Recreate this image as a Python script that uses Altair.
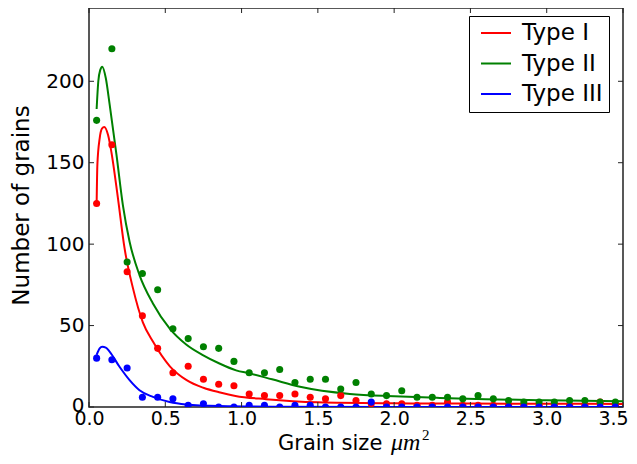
import altair as alt
import pandas as pd

# ---------------- data ----------------
bin_centers = [0.05, 0.15, 0.25, 0.35, 0.45, 0.55, 0.65, 0.75, 0.85, 0.95,
               1.05, 1.15, 1.25, 1.35, 1.45, 1.55, 1.65, 1.75, 1.85, 1.95,
               2.05, 2.15, 2.25, 2.35, 2.45, 2.55, 2.65, 2.75, 2.85, 2.95,
               3.05, 3.15, 3.25, 3.35, 3.45]

type1_counts = [125, 161, 83, 56, 36, 21, 25, 17, 14, 13,
                8, 7, 7, 8, 6, 5, 7, 4, 2, 2,
                2, 1, 1, 3, 1, 1, 1, 1, 1, 1,
                1, 1, 1, 3, 1]
type2_counts = [176, 220, 89, 82, 72, 48, 42, 37, 36, 28,
                21, 21, 23, 15, 17, 17, 11, 15, 8, 7,
                10, 6, 6, 6, 5, 7, 5, 4, 3, 3,
                3, 4, 4, 3, 3]
type3_counts = [30, 29, 24, 6, 6, 5, 1, 2, 0, 0,
                1, 1, 0, 1, 1, 0, 0, 0, 3, 0,
                0, 0, 0, 0, 0, 0, 0, 0, 0, 0,
                0, 0, 0, 0, 0]

type1_fit_x = [0.05, 0.055, 0.07, 0.085, 0.10, 0.125, 0.146, 0.19, 0.233, 0.288,
               0.353, 0.42, 0.53, 0.64, 0.75, 0.86, 0.96, 1.16, 1.5, 2.0, 2.5, 3.0, 3.5]
type1_fit_y = [125, 149, 165, 171, 172, 167, 157, 128, 97.5, 73,
               52, 40, 25, 16.5, 11.8, 8.9, 6.8, 4.8, 2.9, 2.3, 2.1, 2.0, 1.9]

type2_fit_x = [0.05, 0.061, 0.074, 0.087, 0.11, 0.135, 0.18, 0.222, 0.266, 0.331,
               0.419, 0.528, 0.637, 0.746, 0.855, 0.964, 1.056, 1.2, 1.383, 1.71,
               2.0, 2.3, 2.6, 3.0, 3.5]
type2_fit_y = [183, 200, 207, 209, 202, 186, 155, 124, 101.5, 81,
               63.6, 48.3, 38.4, 31.9, 26.7, 22.5, 20.6, 17, 12.4, 8,
               6.6, 5.6, 4.8, 4.1, 3.6]

type3_fit_x = [0.05, 0.07, 0.087, 0.11, 0.135, 0.2, 0.266, 0.331, 0.419, 0.528,
               0.637, 0.855, 1.2, 2.0, 3.5]
type3_fit_y = [32, 36, 37, 36.5, 34, 24.7, 16.5, 10.3, 6.2, 3.1,
               1.6, 0.6, 0.2, 0.05, 0.0]

series_names = ["Type I", "Type II", "Type III"]
series_colors = ["#ff0000", "#008000", "#0000ff"]

x_ticks = [0.0, 0.5, 1.0, 1.5, 2.0, 2.5, 3.0, 3.5]
y_ticks = [0, 50, 100, 150, 200]

# ---------------- tables ----------------
points_df = pd.concat([
    pd.DataFrame({"x": bin_centers, "y": type1_counts, "series": series_names[0]}),
    pd.DataFrame({"x": bin_centers, "y": type2_counts, "series": series_names[1]}),
    pd.DataFrame({"x": bin_centers, "y": type3_counts, "series": series_names[2]}),
], ignore_index=True)

curves_df = pd.concat([
    pd.DataFrame({"x": type1_fit_x, "y": type1_fit_y, "series": series_names[0]}),
    pd.DataFrame({"x": type2_fit_x, "y": type2_fit_y, "series": series_names[1]}),
    pd.DataFrame({"x": type3_fit_x, "y": type3_fit_y, "series": series_names[2]}),
], ignore_index=True)

xt_df = pd.DataFrame({"x": x_ticks})
yt_df = pd.DataFrame({"y": y_ticks})

W, H = 534, 399
TICK = 5
FRAME = "#222222"

x_scale = alt.Scale(domain=[0, 3.5], nice=False, zero=False)
y_scale = alt.Scale(domain=[0, 245], nice=False)
color_scale = alt.Scale(domain=series_names, range=series_colors)

x_axis = alt.Axis(values=x_ticks, format=".1f", title=None, grid=False, ticks=False,
                  domain=False, labelFontSize=19, labelColor="black", labelPadding=2,
                  labelFont="DejaVu Sans", labelFlush=False, labelOverlap=False,
                  labelOffset={"condition": {"test": "datum.value >= 3.5", "value": -10},
                               "value": 0})
y_axis = alt.Axis(values=y_ticks, title="Number of grains", grid=False, ticks=False,
                  domain=False, labelFontSize=20, labelColor="black", labelPadding=5,
                  labelFont="DejaVu Sans", labelFlush=False, labelOverlap=False,
                  labelOffset={"condition": {"test": "datum.value <= 0", "value": -2},
                               "value": 0},
                  titleFontSize=23, titleFontWeight="normal",
                  titleFont="DejaVu Sans", titleColor="black", titleAngle=-90,
                  titleX=-61, titleY=197, titleAlign="center", titleBaseline="alphabetic")

legend = alt.Legend(title=None, orient="none", legendX=380, legendY=8,
                    symbolType="stroke", symbolStrokeWidth=2, symbolSize=900,
                    clipHeight=22, symbolOffset=5,
                    labelFontSize=23, labelFont="DejaVu Sans", labelColor="black",
                    labelOffset=10, rowPadding=7.5, padding=6,
                    strokeColor="black", fillColor="white", cornerRadius=0)

lines = alt.Chart(curves_df).mark_line(strokeWidth=2, interpolate="monotone", clip=True).encode(
    x=alt.X("x:Q", scale=x_scale, axis=x_axis),
    y=alt.Y("y:Q", scale=y_scale, axis=y_axis),
    color=alt.Color("series:N", scale=color_scale, legend=legend),
)

points = alt.Chart(points_df).mark_circle(size=50, opacity=1, clip=True).encode(
    x=alt.X("x:Q", scale=x_scale, axis=x_axis),
    y=alt.Y("y:Q", scale=y_scale, axis=y_axis),
    color=alt.Color("series:N", scale=color_scale, legend=None),
)

tick_bottom = alt.Chart(xt_df).mark_rule(color=FRAME, strokeWidth=1).encode(
    x=alt.X("x:Q", scale=x_scale, axis=x_axis), y=alt.value(H), y2=alt.value(H - TICK))
tick_top = alt.Chart(xt_df).mark_rule(color=FRAME, strokeWidth=1).encode(
    x=alt.X("x:Q", scale=x_scale, axis=x_axis), y=alt.value(0), y2=alt.value(TICK))
tick_left = alt.Chart(yt_df).mark_rule(color=FRAME, strokeWidth=1).encode(
    y=alt.Y("y:Q", scale=y_scale, axis=y_axis), x=alt.value(0), x2=alt.value(TICK))
tick_right = alt.Chart(yt_df).mark_rule(color=FRAME, strokeWidth=1).encode(
    y=alt.Y("y:Q", scale=y_scale, axis=y_axis), x=alt.value(W), x2=alt.value(W - TICK))

TITLE_BASE = 442
title_a = alt.Chart(pd.DataFrame({"t": ["Grain size"]})).mark_text(
    align="left", baseline="alphabetic", font="DejaVu Sans", fontSize=21, color="black"
).encode(text="t:N", x=alt.value(189), y=alt.value(TITLE_BASE))
title_b = alt.Chart(pd.DataFrame({"t": ["μm"]})).mark_text(
    align="left", baseline="alphabetic", font="Liberation Serif", fontStyle="italic",
    fontSize=24, color="black"
).encode(text="t:N", x=alt.value(302), y=alt.value(TITLE_BASE))
title_c = alt.Chart(pd.DataFrame({"t": ["2"]})).mark_text(
    align="left", baseline="alphabetic", font="Liberation Serif",
    fontSize=15, color="black"
).encode(text="t:N", x=alt.value(333), y=alt.value(TITLE_BASE - 10))

chart = alt.layer(
    lines, points, tick_bottom, tick_top, tick_left, tick_right, title_a, title_b, title_c
).properties(
    width=W, height=H,
    padding={"left": 81, "top": 0, "right": 6, "bottom": 49},
    autosize=alt.AutoSizeParams(type="none"),
).configure(font="DejaVu Sans").configure_view(stroke=FRAME, strokeWidth=1.5)

chart.save("out.html", embed_options={"renderer": "svg", "actions": False})
